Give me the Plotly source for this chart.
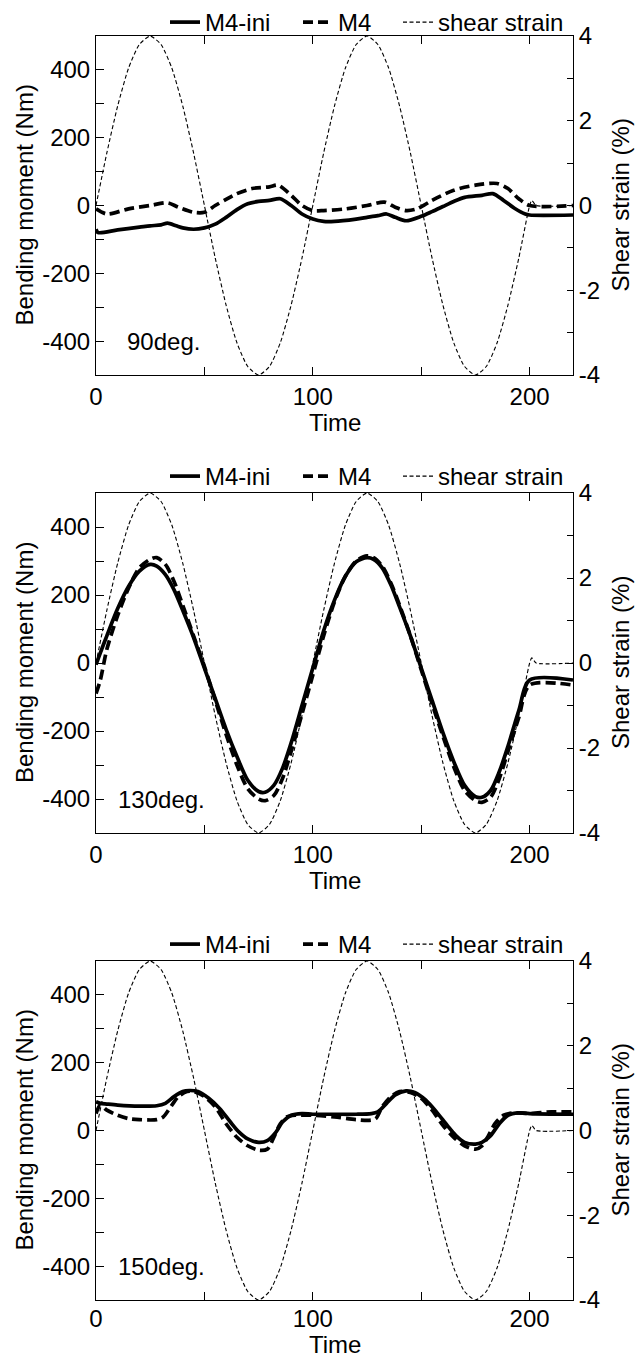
import plotly.graph_objects as go

# ---------------- data ----------------
strain_t = [0, 5, 10, 15, 20, 25, 30, 35, 40, 45, 50, 55, 60, 65, 70, 75, 80, 85, 90, 95,
            100, 105, 110, 115, 120, 125, 130, 135, 140, 145, 150, 155, 160, 165, 170, 175,
            180, 185, 190, 195, 200, 201, 203, 220]
strain_v = [0, 1.24, 2.35, 3.24, 3.80, 4.0, 3.80, 3.24, 2.35, 1.24, 0, -1.24, -2.35, -3.24,
            -3.80, -4.0, -3.80, -3.24, -2.35, -1.24, 0, 1.24, 2.35, 3.24, 3.80, 4.0, 3.80,
            3.24, 2.35, 1.24, 0, -1.24, -2.35, -3.24, -3.80, -4.0, -3.80, -3.24, -2.35,
            -1.24, 0, 0.12, 0, 0]

# 90 deg
p90_ini_t = [0, 1, 10, 20, 25, 30, 33, 37, 40, 45, 50, 55, 60, 65, 70, 75, 80, 85, 90, 95,
             100, 105, 110, 120, 125, 130, 134, 138, 143, 150, 155, 160, 165, 170, 178, 183,
             188, 193, 198, 200, 220]
p90_ini_v = [-70, -80, -72, -64, -60, -57, -52, -60, -66, -70, -66, -55, -35, -12, 5, 12,
             15, 20, 0, -25, -40, -47, -47, -40, -35, -30, -25, -35, -45, -32, -18, -3,
             12, 24, 30, 35, 15, -8, -25, -28, -28]
p90_m4_t = [0, 5, 15, 25, 33, 38, 45, 50, 55, 60, 65, 72, 80, 84, 90, 95, 100, 105, 115,
            125, 133, 138, 143, 148, 155, 165, 175, 185, 190, 195, 200, 220]
p90_m4_v = [-10, -25, -10, 0, 8, -5, -20, -20, 0, 18, 35, 50, 55, 60, 30, 0, -15, -15,
            -10, 0, 10, -5, -15, -10, 15, 45, 60, 65, 50, 20, 0, 0]

# 130 deg
p130_ini_t = [0, 2, 5, 10, 15, 20, 25, 28, 32, 36, 40, 45, 50, 55, 60, 65, 70, 75, 78, 82,
              86, 90, 95, 100, 105, 110, 115, 120, 125, 128, 132, 136, 140, 145, 150, 155,
              160, 165, 170, 175, 178, 182, 186, 190, 195, 200, 220]
p130_ini_v = [-5, 30, 80, 160, 225, 270, 290, 285, 260, 215, 155, 75, -15, -105, -195, -275,
              -345, -378, -380, -360, -310, -235, -125, -15, 95, 185, 255, 298, 310, 305,
              280, 230, 165, 80, -15, -110, -205, -290, -360, -393, -395, -375, -320, -245,
              -140, -50, -50]
p130_m4_t = [0, 2, 5, 10, 15, 20, 25, 28, 32, 36, 40, 45, 50, 55, 60, 65, 70, 75, 78, 82,
             86, 90, 95, 100, 105, 110, 115, 120, 125, 128, 132, 136, 140, 145, 150, 155,
             160, 165, 170, 175, 178, 182, 186, 190, 195, 200, 220]
p130_m4_v = [-90, -50, 40, 140, 220, 280, 305, 310, 290, 240, 170, 80, -10, -110, -210,
             -300, -370, -400, -405, -390, -340, -260, -150, -35, 80, 180, 255, 300, 315,
             310, 285, 235, 170, 80, -20, -120, -215, -305, -375, -405, -410, -395, -340,
             -260, -160, -65, -65]

# 150 deg
p150_ini_t = [0, 2, 5, 10, 20, 28, 32, 36, 40, 43, 47, 52, 57, 62, 66, 70, 75, 79, 83, 86,
              90, 95, 100, 110, 120, 127, 130, 134, 138, 143, 147, 152, 157, 162, 166, 170,
              175, 178, 182, 186, 190, 195, 200, 220]
p150_ini_v = [85, 80, 78, 75, 72, 73, 80, 100, 115, 118, 115, 95, 65, 25, -5, -25, -35, -30,
              -5, 25, 45, 50, 48, 48, 48, 50, 55, 80, 105, 117, 112, 90, 55, 15, -15, -35,
              -40, -35, -15, 20, 45, 52, 50, 48]
p150_m4_t = [0, 2, 5, 10, 15, 20, 28, 31, 35, 38, 42, 45, 50, 55, 60, 65, 70, 75, 79, 82,
             85, 88, 92, 100, 110, 120, 126, 129, 132, 136, 140, 145, 150, 155, 160, 165,
             170, 175, 178, 181, 184, 188, 193, 200, 210, 220]
p150_m4_v = [50, 75, 60, 45, 35, 32, 32, 40, 75, 100, 115, 115, 100, 70, 20, -20, -45, -58,
             -55, -20, 20, 40, 45, 45, 40, 32, 30, 35, 70, 100, 115, 112, 95, 60, 15, -20,
             -45, -55, -45, -15, 20, 45, 52, 50, 55, 55]

panel_labels = ["90deg.", "130deg.", "150deg."]
series_names = ["M4-ini", "M4", "shear strain"]
x_tickvals = [0, 50, 100, 150, 200]
x_ticktext = ["0", "", "100", "", "200"]
y_tickvals = [-500, -400, -300, -200, -100, 0, 100, 200, 300, 400, 500]
y_ticktext = ["", "-400", "", "-200", "", "0", "", "200", "", "400", ""]
y2_tickvals = [-4, -3, -2, -1, 0, 1, 2, 3, 4]
y2_ticktext = ["-4", "", "-2", "", "0", "", "2", "", "4"]

# ---------------- layout ----------------
W, H = 642, 1358
FONT = "Arial, Liberation Sans, sans-serif"
FS = 24
panels_px = [(36, 375), (493, 833), (961, 1300)]
legend_center_px = [18, 475, 943]
left_px, right_px = 96, 573
xdom = [left_px / W, right_px / W]

data_sets = [
    (p90_ini_t, p90_ini_v, p90_m4_t, p90_m4_v),
    (p130_ini_t, p130_ini_v, p130_m4_t, p130_m4_v),
    (p150_ini_t, p150_ini_v, p150_m4_t, p150_m4_v),
]
legend_widths = [88, 55, 0]

fig = go.Figure()
layout = dict(
    template="none",
    width=W, height=H, margin=dict(l=0, r=0, t=0, b=0, pad=0, autoexpand=False),
    paper_bgcolor="white", plot_bgcolor="white",
    font=dict(family=FONT, size=FS, color="black"),
    showlegend=True,
)
annotations = []
legend_keys = ["legend", "legend2", "legend3"]

for i, (top, bot) in enumerate(panels_px):
    ydom = [1 - bot / H, 1 - top / H]
    xk = "xaxis" if i == 0 else f"xaxis{i + 1}"
    xr = "x" if i == 0 else f"x{i + 1}"
    yl_n = 2 * i + 1
    yr_n = 2 * i + 2
    ylk = "yaxis" if yl_n == 1 else f"yaxis{yl_n}"
    ylr = "y" if yl_n == 1 else f"y{yl_n}"
    yrk = f"yaxis{yr_n}"
    yrr = f"y{yr_n}"
    lg = legend_keys[i]
    last = (i == len(panels_px) - 1)

    ini_t, ini_v, m4_t, m4_v = data_sets[i]
    fig.add_trace(go.Scatter(x=strain_t, y=strain_v, mode="lines", name=series_names[2],
                             line=dict(color="black", width=1.1, dash="4px,2.5px",
                                       shape="spline", smoothing=0.6),
                             xaxis=xr, yaxis=yrr, legend=lg, legendrank=3,
                             legendwidth=legend_widths[2]))
    fig.add_trace(go.Scatter(x=ini_t, y=ini_v, mode="lines", name=series_names[0],
                             line=dict(color="black", width=3.7, shape="spline", smoothing=0.8),
                             xaxis=xr, yaxis=ylr, legend=lg, legendrank=1,
                             legendwidth=legend_widths[0]))
    fig.add_trace(go.Scatter(x=m4_t, y=m4_v, mode="lines", name=series_names[1],
                             line=dict(color="black", width=3.7, dash="10px,5px",
                                       shape="spline", smoothing=0.8),
                             xaxis=xr, yaxis=ylr, legend=lg, legendrank=2,
                             legendwidth=legend_widths[1]))

    axis_common = dict(showline=True, linecolor="black", linewidth=1, showgrid=False,
                       zeroline=False, ticks="inside", ticklen=8, tickcolor="black",
                       tickwidth=1, tickmode="array", automargin=False,
                       tickfont=dict(family=FONT, size=FS, color="black"))
    layout[xk] = dict(axis_common, domain=xdom, range=[0, 220], mirror="ticks",
                      tickvals=x_tickvals, ticktext=x_ticktext, anchor=ylr,
                      ticklabelstandoff=(-3 if last else 0))
    layout[ylk] = dict(axis_common, domain=ydom, range=[-500, 500],
                       tickvals=y_tickvals, ticktext=y_ticktext, anchor=xr)
    layout[yrk] = dict(axis_common, range=[-4, 4], overlaying=ylr, side="right",
                       tickvals=y2_tickvals, ticktext=y2_ticktext, anchor=xr, ticklen=6)

    leg_top = max(0, legend_center_px[i] - 21)
    layout[lg] = dict(orientation="h", xanchor="left", x=165 / W,
                      yanchor="top", y=1 - leg_top / H,
                      bgcolor="rgba(0,0,0,0)", borderwidth=0,
                      font=dict(family=FONT, size=FS),
                      itemwidth=30, tracegroupgap=0, traceorder="normal")

    annotations.append(dict(text="Bending moment (Nm)", xref="paper", yref="paper",
                            x=24 / W, y=1 - (top + bot) / 2 / H, textangle=-90,
                            showarrow=False, xanchor="center", yanchor="middle",
                            font=dict(family=FONT, size=FS)))
    annotations.append(dict(text="Shear strain (%)", xref="paper", yref="paper",
                            x=620 / W, y=1 - (top + bot) / 2 / H, textangle=-90,
                            showarrow=False, xanchor="center", yanchor="middle",
                            font=dict(family=FONT, size=FS)))
    if not last:
        annotations.append(dict(text="Time", xref="paper", yref="paper",
                                x=(left_px + right_px) / 2 / W, y=1 - (bot + 47) / H,
                                showarrow=False, xanchor="center", yanchor="middle",
                                borderpad=0, font=dict(family=FONT, size=FS)))
    else:
        annotations.append(dict(text="Time", xref="paper", yref="paper",
                                x=(left_px + right_px) / 2 / W, y=0,
                                showarrow=False, xanchor="center", yanchor="bottom",
                                height=25, valign="middle",
                                borderpad=0, font=dict(family=FONT, size=FS)))
    annotations.append(dict(text=panel_labels[i], xref="paper", yref="paper",
                            x=(125 if i == 0 else 116) / W, y=1 - (bot - 34) / H,
                            showarrow=False, xanchor="left", yanchor="middle",
                            font=dict(family=FONT, size=FS)))

layout["annotations"] = annotations
fig.update_layout(**layout)
fig.write_html("out.html", config={"displayModeBar": False},
               post_script="document.body.style.margin='0px';")
